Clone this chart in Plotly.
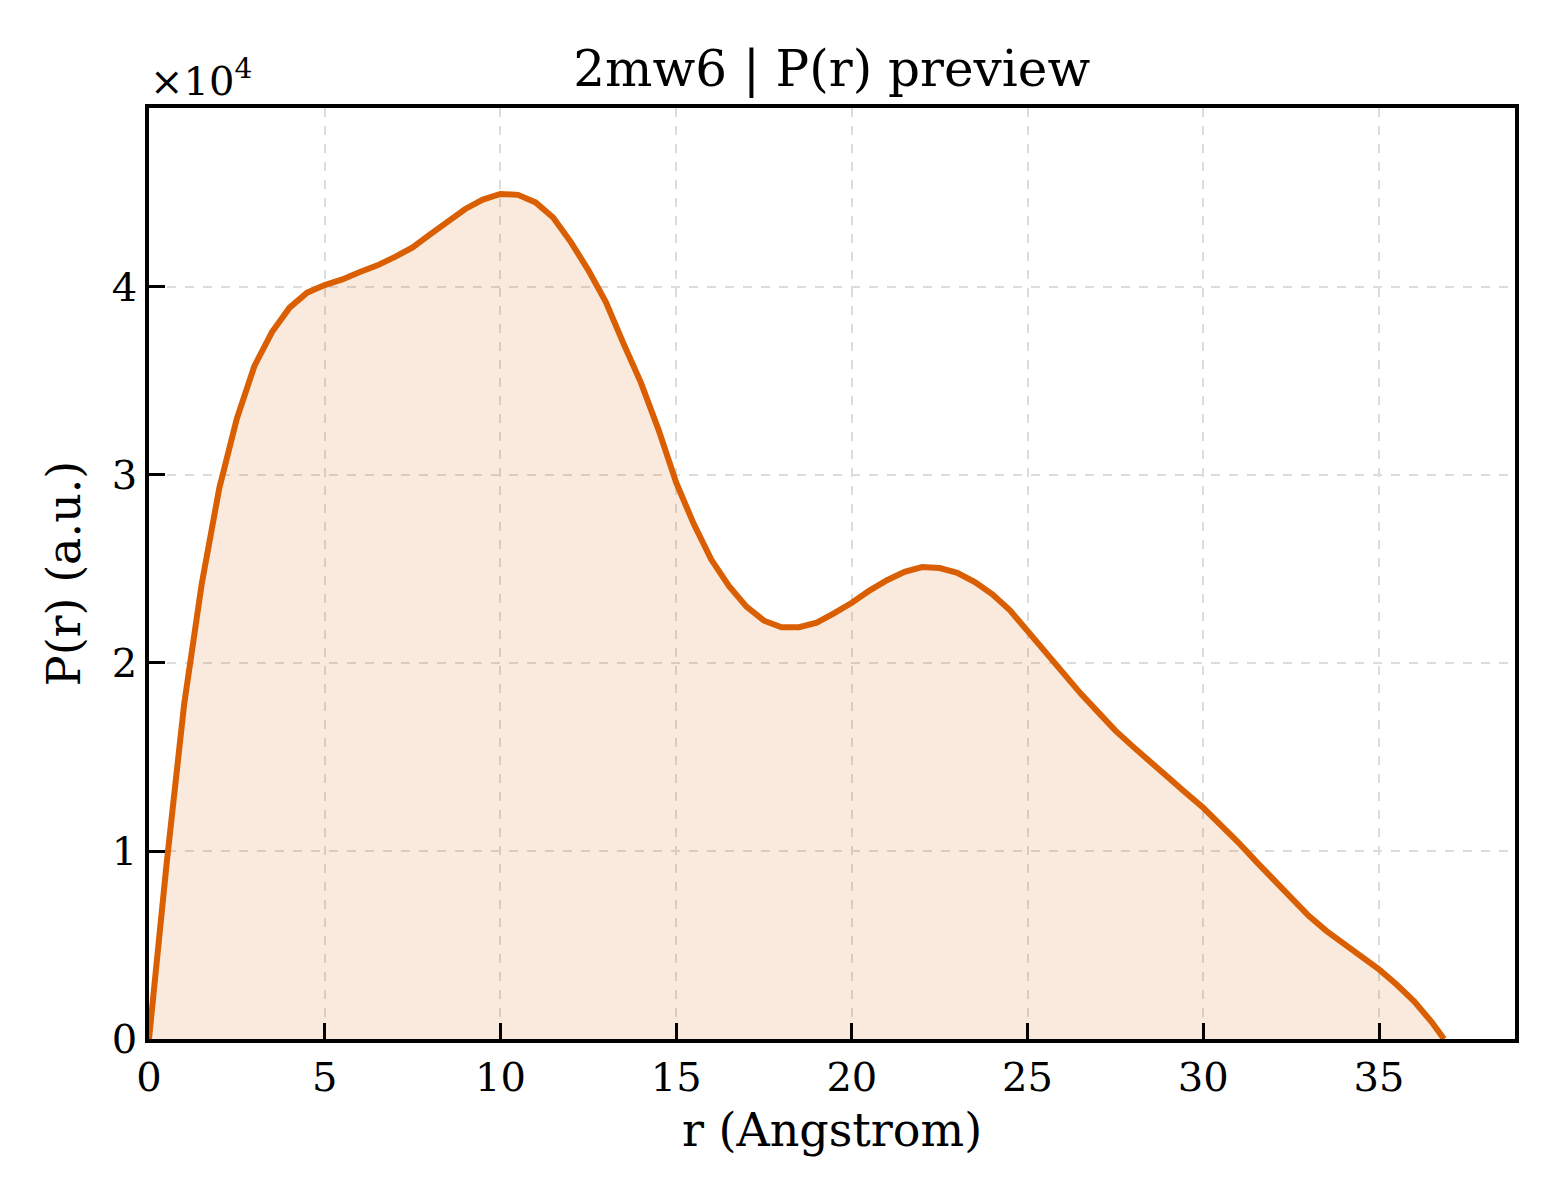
import plotly.graph_objects as go

# P(r) curve (r in Angstrom, P in units of 1e4)
r_vals = [0.0, 0.5, 1.0, 1.5, 2.0, 2.5, 3.0, 3.5, 4.0, 4.5,
          5.0, 5.5, 6.0, 6.5, 7.0, 7.5, 8.0, 8.5, 9.0, 9.5,
          10.0, 10.5, 11.0, 11.5, 12.0, 12.5, 13.0, 13.5, 14.0, 14.5,
          15.0, 15.5, 16.0, 16.5, 17.0, 17.5, 18.0, 18.5, 19.0, 19.5,
          20.0, 20.5, 21.0, 21.5, 22.0, 22.5, 23.0, 23.5, 24.0, 24.5,
          25.0, 25.5, 26.0, 26.5, 27.0, 27.5, 28.0, 28.5, 29.0, 29.5,
          30.0, 30.5, 31.0, 31.5, 32.0, 32.5, 33.0, 33.5, 34.0, 34.5,
          35.0, 35.5, 36.0, 36.5, 36.85]
p_vals = [0.0, 0.93, 1.78, 2.42, 2.93, 3.30, 3.58, 3.76, 3.89, 3.97,
          4.01, 4.04, 4.08, 4.115, 4.16, 4.21, 4.28, 4.35, 4.415, 4.465,
          4.495, 4.49, 4.45, 4.37, 4.24, 4.09, 3.92, 3.70, 3.49, 3.24,
          2.96, 2.74, 2.55, 2.41, 2.30, 2.225, 2.19, 2.19, 2.215, 2.265,
          2.32, 2.385, 2.44, 2.485, 2.51, 2.505, 2.48, 2.43, 2.365, 2.28,
          2.17, 2.06, 1.945, 1.84, 1.74, 1.64, 1.555, 1.47, 1.39, 1.31,
          1.23, 1.14, 1.045, 0.945, 0.845, 0.75, 0.655, 0.575, 0.505, 0.44,
          0.37, 0.29, 0.20, 0.09, 0.0]
p_scaled = [v * 1e4 for v in p_vals]

x_ticks = [0, 5, 10, 15, 20, 25, 30, 35]
y_ticks = [0, 1, 2, 3, 4]

font_family = "DejaVu Serif"
line_color = "#D95F02"

fig = go.Figure(
    go.Scatter(
        x=r_vals,
        y=p_scaled,
        mode="lines",
        line=dict(color=line_color, width=6),
        fill="tozeroy",
        fillcolor="rgba(217,95,2,0.13)",
        hoverinfo="skip",
    )
)

axis_common = dict(
    showline=True,
    linecolor="black",
    linewidth=3.5,
    mirror=True,
    ticks="inside",
    ticklen=16,
    tickwidth=3,
    tickcolor="black",
    showgrid=True,
    gridcolor="#dcdcdc",
    gridwidth=1.5,
    griddash="dash",
    zeroline=False,
    tickfont=dict(family=font_family, size=40, color="black"),
)

fig.update_xaxes(
    range=[0, 38.87],
    tickvals=x_ticks,
    title=dict(text="r (Angstrom)", font=dict(family=font_family, size=46, color="black"), standoff=16),
    **axis_common,
)
fig.update_yaxes(
    range=[0, 49520],
    tickvals=[v * 1e4 for v in y_ticks],
    ticktext=[str(v) for v in y_ticks],
    title=dict(text="P(r) (a.u.)", font=dict(family=font_family, size=46, color="black"), standoff=18),
    **axis_common,
)

fig.update_layout(
    width=1560,
    height=1200,
    margin=dict(l=141, r=53, t=100, b=169),
    plot_bgcolor="white",
    paper_bgcolor="white",
    showlegend=False,
    title=dict(
        text="2mw6 | P(r) preview",
        x=0.528, xanchor="center",
        y=0.950, yanchor="middle",
        font=dict(family=font_family, size=50, color="black"),
    ),
    annotations=[
        dict(
            text="×10<sup>4</sup>",
            xref="paper", yref="paper",
            x=0, y=1, xanchor="left", yanchor="bottom",
            xshift=-1, yshift=2,
            showarrow=False,
            font=dict(family=font_family, size=40, color="black"),
        )
    ],
)

fig.write_html("out.html")
